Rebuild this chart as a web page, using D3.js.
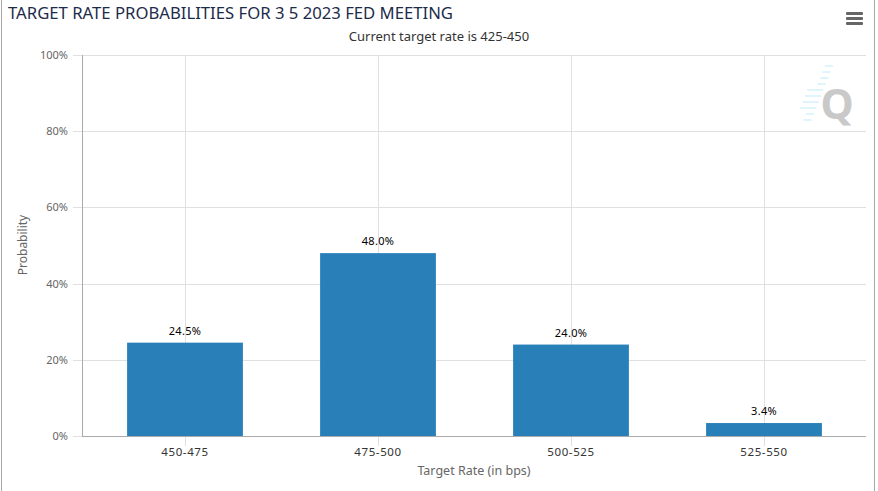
<!DOCTYPE html>
<html>
<head>
<meta charset="utf-8">
<script src="https://cdn.jsdelivr.net/npm/d3@7"></script>
<style>
    html, body { margin: 0; padding: 0; background: #fff; }
    svg { display: block; font-family: "Segoe UI", "Noto Sans", "Liberation Sans", sans-serif; }
</style>
</head>
<body>
<div id="chart"></div>
<script>
'use strict';

const titleText = 'TARGET RATE PROBABILITIES FOR 3 5 2023 FED MEETING';
const subtitleText = 'Current target rate is 425-450';
const targetRates = ['450-475', '475-500', '500-525', '525-550'];
const probabilities = [24.5, 48.0, 24.0, 3.4];
const yTicks = [0, 20, 40, 60, 80, 100];

const width = 878;
const height = 491;
const plot = { left: 82, right: 866, top: 55, bottom: 436 };

const svg = d3.select('#chart')
    .append('svg')
    .attr('width', width)
    .attr('height', height);

// frame edges
svg.append('line')
    .attr('x1', 1.5).attr('x2', 1.5).attr('y1', 0).attr('y2', height)
    .attr('stroke', '#a8a8a8');
svg.append('line')
    .attr('x1', 874.5).attr('x2', 874.5).attr('y1', 0).attr('y2', height)
    .attr('stroke', '#a8a8a8');

// scales
const xScale = d3.scaleBand()
    .domain(targetRates)
    .range([88.5, 860.5])
    .paddingInner(0.4)
    .paddingOuter(0.2);

const yScale = d3.scaleLinear()
    .domain([0, 100])
    .range([plot.bottom, plot.top]);

// horizontal grid
svg.append('g')
    .selectAll('line')
    .data(yTicks)
    .join('line')
    .attr('x1', 73)
    .attr('x2', plot.right)
    .attr('y1', function (d) { return Math.round(yScale(d)) + 0.5; })
    .attr('y2', function (d) { return Math.round(yScale(d)) + 0.5; })
    .attr('stroke', '#e0e0e0');

// vertical grid at category centres, running a bit below the axis
svg.append('g')
    .selectAll('line')
    .data(targetRates)
    .join('line')
    .attr('x1', function (d) { return Math.round(xScale(d) + xScale.bandwidth() / 2) + 0.5; })
    .attr('x2', function (d) { return Math.round(xScale(d) + xScale.bandwidth() / 2) + 0.5; })
    .attr('y1', plot.top)
    .attr('y2', plot.bottom + 10)
    .attr('stroke', '#e0e0e0');

// y tick labels
svg.append('g')
    .selectAll('text')
    .data(yTicks)
    .join('text')
    .attr('x', 68)
    .attr('y', function (d) { return yScale(d) + 4; })
    .attr('text-anchor', 'end')
    .attr('font-size', 11)
    .attr('fill', '#666')
    .text(function (d) { return d + '%'; });

// bars
svg.append('g')
    .selectAll('rect')
    .data(probabilities)
    .join('rect')
    .attr('x', function (d, i) { return xScale(targetRates[i]); })
    .attr('y', function (d) { return yScale(d); })
    .attr('width', xScale.bandwidth())
    .attr('height', function (d) { return yScale(0) - yScale(d); })
    .attr('fill', '#2980b9');

// value labels above bars
svg.append('g')
    .selectAll('text')
    .data(probabilities)
    .join('text')
    .attr('x', function (d, i) { return xScale(targetRates[i]) + xScale.bandwidth() / 2; })
    .attr('y', function (d) { return yScale(d) - 8; })
    .attr('text-anchor', 'middle')
    .attr('font-size', 11)
    .attr('letter-spacing', 0.3)
    .attr('fill', '#000')
    .text(function (d) { return d.toFixed(1) + '%'; });

// axis lines
svg.append('line')
    .attr('x1', plot.left + 0.5).attr('x2', plot.left + 0.5)
    .attr('y1', plot.top).attr('y2', plot.bottom)
    .attr('stroke', '#aaa');
svg.append('line')
    .attr('x1', plot.left).attr('x2', plot.right)
    .attr('y1', plot.bottom + 0.5).attr('y2', plot.bottom + 0.5)
    .attr('stroke', '#aaa');

// x tick labels
svg.append('g')
    .selectAll('text')
    .data(targetRates)
    .join('text')
    .attr('x', function (d) { return xScale(d) + xScale.bandwidth() / 2; })
    .attr('y', 456)
    .attr('text-anchor', 'middle')
    .attr('font-size', 11.5)
    .attr('letter-spacing', 0.6)
    .attr('fill', '#333')
    .text(function (d) { return d; });

// axis titles
svg.append('text')
    .attr('x', 474)
    .attr('y', 475)
    .attr('text-anchor', 'middle')
    .attr('font-size', 12.5)
    .attr('fill', '#666')
    .text('Target Rate (in bps)');

svg.append('text')
    .attr('transform', 'rotate(-90)')
    .attr('x', -245)
    .attr('y', 27)
    .attr('text-anchor', 'middle')
    .attr('font-size', 12)
    .attr('fill', '#666')
    .text('Probability');

// title and subtitle
svg.append('text')
    .attr('x', 8)
    .attr('y', 19)
    .attr('font-size', 17)
    .attr('fill', '#1c2b4a')
    .attr('textLength', 445)
    .attr('lengthAdjust', 'spacingAndGlyphs')
    .text(titleText);

svg.append('text')
    .attr('x', 439)
    .attr('y', 41)
    .attr('text-anchor', 'middle')
    .attr('font-size', 13)
    .attr('fill', '#333')
    .text(subtitleText);

// menu button
svg.append('g')
    .selectAll('rect')
    .data([0, 1, 2])
    .join('rect')
    .attr('x', 846)
    .attr('y', function (d) { return 12 + d * 5; })
    .attr('width', 17)
    .attr('height', 3)
    .attr('rx', 1)
    .attr('fill', '#666');

// watermark logo
const logo = svg.append('g').attr('opacity', 0.9);
d3.range(10).forEach(function (i) {
    const y = 66 + i * 6;
    const x = 833 - i * 2.4;
    logo.append('line')
        .attr('x1', x - 8 - (i > 3 && i < 8 ? 8 : 0)).attr('x2', x)
        .attr('y1', y).attr('y2', y)
        .attr('stroke', '#d2f0fa')
        .attr('stroke-width', 1.5);
});
logo.append('text')
    .attr('x', 837)
    .attr('y', 119)
    .attr('text-anchor', 'middle')
    .attr('font-size', 42)
    .attr('font-weight', 700)
    .attr('fill', '#c4c4c4')
    .text('Q');
</script>
</body>
</html>
